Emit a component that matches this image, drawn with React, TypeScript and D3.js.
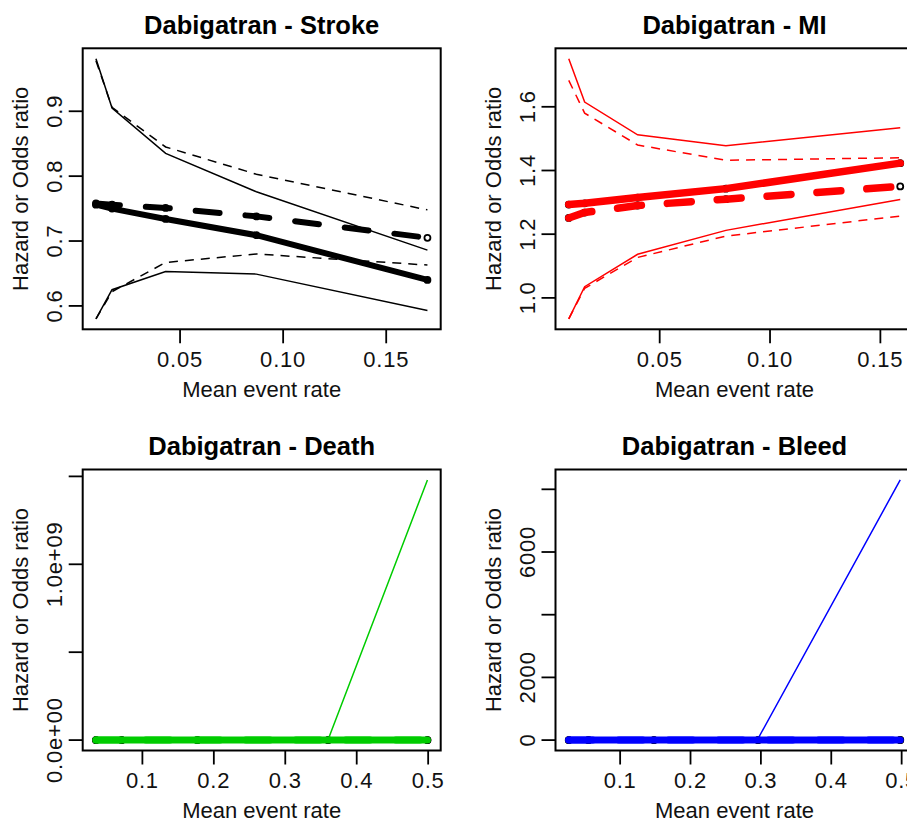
import React from "react";
import * as d3 from "d3";

// ---------------- data ----------------
const strokeX = [0.0092, 0.017, 0.043, 0.087, 0.17];
const strokeEst = [0.756, 0.75, 0.734, 0.709, 0.64];
const strokeEst2 = [0.758, 0.756, 0.751, 0.738, 0.705];
const strokeUpper = [0.981, 0.905, 0.835, 0.776, 0.686];
const strokeUpper2 = [0.978, 0.906, 0.845, 0.803, 0.748];
const strokeLower = [0.58, 0.625, 0.653, 0.649, 0.593];
const strokeLower2 = [0.58, 0.622, 0.667, 0.68, 0.663];

const miX = [0.0088, 0.016, 0.04, 0.08, 0.159];
const miEst = [1.293, 1.297, 1.315, 1.343, 1.423];
const miEst2 = [1.251, 1.268, 1.29, 1.31, 1.35];
const miUpper = [1.751, 1.615, 1.512, 1.478, 1.534];
const miUpper2 = [1.683, 1.58, 1.48, 1.432, 1.44];
const miLower = [0.934, 1.035, 1.137, 1.212, 1.309];
const miLower2 = [0.934, 1.03, 1.127, 1.194, 1.257];

const deathX = [0.035, 0.071, 0.177, 0.36, 0.499];
const deathEst = [0.93, 0.92, 0.9, 0.88, 0.86];
const deathEst2 = [0.95, 0.94, 0.93, 0.92, 0.91];
const deathUpper = [1.6, 2.4, 9.5, 3.2e6, 1.48e9];
const deathLower = [0.52, 0.36, 0.09, 0.00024, 0.0];

const bleedX = [0.027, 0.055, 0.148, 0.296, 0.498];
const bleedEst = [1.1, 1.15, 1.3, 1.6, 2.2];
const bleedEst2 = [1.05, 1.1, 1.2, 1.4, 1.8];
const bleedUpper = [1.9, 2.6, 6.5, 48, 8300];
const bleedLower = [0.6, 0.5, 0.26, 0.05, 0.0006];

const xTicksTop = [0.05, 0.1, 0.15];
const xTickLabelsTop = ["0.05", "0.10", "0.15"];
const xTicksBottom = [0.1, 0.2, 0.3, 0.4, 0.5];
const xTickLabelsBottom = ["0.1", "0.2", "0.3", "0.4", "0.5"];

const strokeYTicks = [0.6, 0.7, 0.8, 0.9];
const strokeYLabels = ["0.6", "0.7", "0.8", "0.9"];
const miYTicks = [1.0, 1.2, 1.4, 1.6];
const miYLabels = ["1.0", "1.2", "1.4", "1.6"];
const deathYTicks = [0, 5e8, 1e9, 1.5e9];
const deathYLabels = ["0.0e+00", "", "1.0e+09", ""];
const bleedYTicks = [0, 2000, 4000, 6000, 8000];
const bleedYLabels = ["0", "2000", "", "6000", ""];

const titles = [
  "Dabigatran - Stroke",
  "Dabigatran - MI",
  "Dabigatran - Death",
  "Dabigatran - Bleed",
];
const xLabel = "Mean event rate";
const yLabel = "Hazard or Odds ratio";

// ---------------- layout ----------------
const W = 907;
const H = 823;
const FONT = "'Liberation Sans', Arial, Helvetica, sans-serif";

type PanelProps = {
  left: number;
  top: number;
  width: number;
  height: number;
  title: string;
  color: string;
  x: number[];
  est: number[];
  est2: number[];
  upper: number[];
  lower: number[];
  upper2?: number[];
  lower2?: number[];
  xTicks: number[];
  xTickLabels: string[];
  yTicks: number[];
  yTickLabels: string[];
  thick: number;
};

function rExpand(ext: [number, number]): [number, number] {
  const r = ext[1] - ext[0];
  return [ext[0] - 0.04 * r, ext[1] + 0.04 * r];
}

function Panel(p: PanelProps) {
  const { left, top, width, height } = p;
  const xs = d3
    .scaleLinear()
    .domain(rExpand(d3.extent(p.x) as [number, number]))
    .range([left, left + width]);
  const allY = [
    ...p.est,
    ...p.est2,
    ...p.upper,
    ...p.lower,
    ...(p.upper2 || []),
    ...(p.lower2 || []),
  ];
  const ys = d3
    .scaleLinear()
    .domain(rExpand(d3.extent(allY) as [number, number]))
    .range([top + height, top]);

  const line = (vals: number[]) =>
    d3
      .line<number>()
      .x((_, i) => xs(p.x[i]))
      .y((v) => ys(v))(vals) || "";

  const bottom = top + height;
  const cx = left + width / 2;
  const cy = top + height / 2;
  const clipId = "clip" + Math.round(left) + "_" + Math.round(top);

  return (
    <g>
      <defs>
        <clipPath id={clipId}>
          <rect x={left} y={top} width={width} height={height} />
        </clipPath>
      </defs>
      <g clipPath={`url(#${clipId})`}>
        {/* points */}
        {p.x.map((xv, i) => (
          <circle
            key={"a" + i}
            cx={xs(xv)}
            cy={ys(p.est[i])}
            r={3}
            fill="none"
            stroke="#000"
            strokeWidth={1.8}
          />
        ))}
        {p.x.map((xv, i) => (
          <circle
            key={"b" + i}
            cx={xs(xv)}
            cy={ys(p.est2[i])}
            r={3}
            fill="none"
            stroke="#000"
            strokeWidth={1.8}
          />
        ))}
        {/* thin CI lines */}
        <path d={line(p.upper)} fill="none" stroke={p.color} strokeWidth={1.5} />
        <path d={line(p.lower)} fill="none" stroke={p.color} strokeWidth={1.5} />
        {p.upper2 && (
          <path
            d={line(p.upper2)}
            fill="none"
            stroke={p.color}
            strokeWidth={1.5}
            strokeDasharray="9 7"
          />
        )}
        {p.lower2 && (
          <path
            d={line(p.lower2)}
            fill="none"
            stroke={p.color}
            strokeWidth={1.5}
            strokeDasharray="9 7"
          />
        )}
        {/* thick estimate lines */}
        <path
          d={line(p.est)}
          fill="none"
          stroke={p.color}
          strokeWidth={p.thick}
          strokeLinecap="round"
          strokeLinejoin="round"
        />
        <path
          d={line(p.est2)}
          fill="none"
          stroke={p.color}
          strokeWidth={p.thick}
          strokeLinecap="round"
          strokeDasharray="24 26"
        />
      </g>
      {/* box */}
      <rect
        x={left}
        y={top}
        width={width}
        height={height}
        fill="none"
        stroke="#000"
        strokeWidth={2}
      />
      {/* x axis */}
      {p.xTicks.map((t, i) => (
        <g key={"xt" + i}>
          <line
            x1={xs(t)}
            x2={xs(t)}
            y1={bottom}
            y2={bottom + 14}
            stroke="#000"
            strokeWidth={1.8}
          />
          <text
            x={xs(t)}
            y={bottom + 37.5}
            textAnchor="middle"
            fontFamily={FONT}
            fontSize={22}
            letterSpacing={0.8}
            fill="#111"
          >
            {p.xTickLabels[i]}
          </text>
        </g>
      ))}
      {/* y axis */}
      {p.yTicks.map((t, i) => (
        <g key={"yt" + i}>
          <line
            x1={left}
            x2={left - 14}
            y1={ys(t)}
            y2={ys(t)}
            stroke="#000"
            strokeWidth={1.8}
          />
          {p.yTickLabels[i] !== "" && (
            <text
              transform={`translate(${left - 20.5},${ys(t)}) rotate(-90)`}
              textAnchor="middle"
              fontFamily={FONT}
              fontSize={22}
              letterSpacing={0.8}
              fill="#111"
            >
              {p.yTickLabels[i]}
            </text>
          )}
        </g>
      ))}
      {/* labels */}
      <text
        x={cx}
        y={top - 14.8}
        textAnchor="middle"
        fontFamily={FONT}
        fontWeight="bold"
        fontSize={25.5}
        fill="#000"
      >
        {p.title}
      </text>
      <text
        x={cx}
        y={bottom + 67.5}
        textAnchor="middle"
        fontFamily={FONT}
        fontSize={22}
        fill="#111"
      >
        {xLabel}
      </text>
      <text
        transform={`translate(${left - 55},${cy}) rotate(-90)`}
        textAnchor="middle"
        fontFamily={FONT}
        fontSize={22}
        fill="#111"
      >
        {yLabel}
      </text>
    </g>
  );
}

export default function App() {
  const pw = 358;
  const ph = 281;
  return (
    <div style={{ position: "absolute", left: 0, top: 0, width: W, height: H, overflow: "hidden", background: "#fff" }}>
      <svg width={W} height={H} viewBox={`0 0 ${W} ${H}`} style={{ display: "block" }}>
        <rect x={0} y={0} width={W} height={H} fill="#fff" />
        <Panel
          left={82.7}
          top={48.3}
          width={pw}
          height={ph}
          title={titles[0]}
          color="#000"
          x={strokeX}
          est={strokeEst}
          est2={strokeEst2}
          upper={strokeUpper}
          lower={strokeLower}
          upper2={strokeUpper2}
          lower2={strokeLower2}
          xTicks={xTicksTop}
          xTickLabels={xTickLabelsTop}
          yTicks={strokeYTicks}
          yTickLabels={strokeYLabels}
          thick={6}
        />
        <Panel
          left={555.5}
          top={48.3}
          width={pw}
          height={ph}
          title={titles[1]}
          color="#ff0000"
          x={miX}
          est={miEst}
          est2={miEst2}
          upper={miUpper}
          lower={miLower}
          upper2={miUpper2}
          lower2={miLower2}
          xTicks={xTicksTop}
          xTickLabels={xTickLabelsTop}
          yTicks={miYTicks}
          yTickLabels={miYLabels}
          thick={7.5}
        />
        <Panel
          left={82.7}
          top={469.5}
          width={pw}
          height={ph}
          title={titles[2]}
          color="#00cc00"
          x={deathX}
          est={deathEst}
          est2={deathEst2}
          upper={deathUpper}
          lower={deathLower}
          xTicks={xTicksBottom}
          xTickLabels={xTickLabelsBottom}
          yTicks={deathYTicks}
          yTickLabels={deathYLabels}
          thick={7}
        />
        <Panel
          left={555.5}
          top={469.5}
          width={pw}
          height={ph}
          title={titles[3]}
          color="#0000ff"
          x={bleedX}
          est={bleedEst}
          est2={bleedEst2}
          upper={bleedUpper}
          lower={bleedLower}
          xTicks={xTicksBottom}
          xTickLabels={xTickLabelsBottom}
          yTicks={bleedYTicks}
          yTickLabels={bleedYLabels}
          thick={7}
        />
      </svg>
    </div>
  );
}
